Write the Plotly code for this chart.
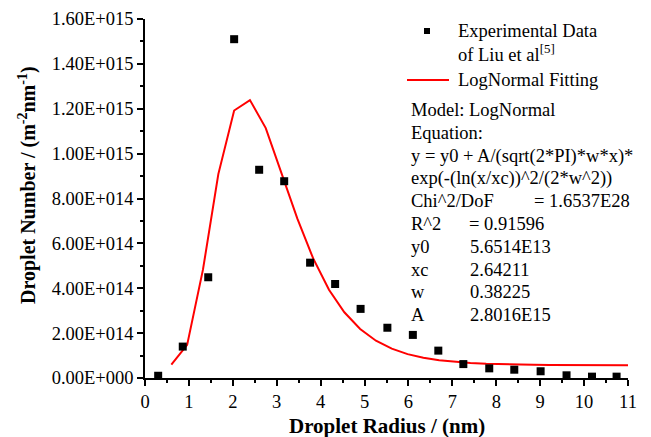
import plotly.graph_objects as go

exp_x = [0.30, 0.86, 1.44, 2.03, 2.60, 3.17, 3.76, 4.33, 4.91, 5.52, 6.10, 6.68, 7.25, 7.84, 8.41, 9.01, 9.60, 10.18, 10.74]
exp_y = [1.0e13, 1.40e14, 4.49e14, 1.51e15, 9.28e14, 8.77e14, 5.14e14, 4.19e14, 3.08e14, 2.24e14,
         1.92e14, 1.22e14, 6.2e13, 4.3e13, 3.7e13, 3.0e13, 1.2e13, 6e12, 6e12]

# LogNormal fitting curve (vertices)
fit_x = [0.60, 0.96, 1.32, 1.67, 2.03, 2.39, 2.75, 3.11, 3.47, 3.83, 4.19, 4.54, 4.90, 5.26, 5.62,
         5.98, 6.34, 6.70, 7.06, 7.41, 7.77, 8.13, 8.49, 8.85, 9.21, 9.57, 9.93, 10.28, 10.64, 11.0]
fit_y = [0.591e14, 1.478e14, 4.828e14, 9.086e14, 11.922e14, 12.385e14, 11.14e14, 9.150e14, 7.100e14,
         5.328e14, 3.936e14, 2.928e14, 2.182e14, 1.662e14, 1.306e14, 1.064e14, 0.900e14, 0.790e14,
         0.717e14, 0.669e14, 0.635e14, 0.613e14, 0.598e14, 0.587e14, 0.580e14, 0.576e14, 0.572e14,
         0.570e14, 0.568e14, 0.567e14]

x_ticks = [0, 1, 2, 3, 4, 5, 6, 7, 8, 9, 10, 11]
y_ticks = [0, 2e14, 4e14, 6e14, 8e14, 1.0e15, 1.2e15, 1.4e15, 1.6e15]
y_tick_text = ["0.00E+000", "2.00E+014", "4.00E+014", "6.00E+014", "8.00E+014",
               "1.00E+015", "1.20E+015", "1.40E+015", "1.60E+015"]

W, H = 651, 437
OFF = 8  # page body margin
L, R, T, B = 145, 628, 19, 378  # target plot area in window pixels
FONT = "Liberation Serif, Times New Roman, serif"


def px(xp):
    return (xp - L) / (R - L)


def py(yp):
    return (B - yp) / (B - T)


fig = go.Figure()
fig.add_trace(go.Scatter(x=fit_x, y=fit_y, mode="lines",
                         line=dict(color="#ff0000", width=2), showlegend=False))
fig.add_trace(go.Scatter(x=exp_x, y=exp_y, mode="markers",
                         marker=dict(symbol="square", size=8, color="black"), showlegend=False))

axis_common = dict(showgrid=False, zeroline=False, showline=True, linecolor="black", linewidth=1.5,
                   ticks="outside", ticklen=6, tickwidth=1.5, tickcolor="black", automargin=False,
                   tickfont=dict(family=FONT, size=18.5, color="black"))

fig.update_xaxes(range=[0, 11], tickvals=x_ticks, ticktext=[str(v) for v in x_ticks],
                 minor=dict(ticks="outside", ticklen=3, tickwidth=1.5, tickcolor="black", dtick=0.5),
                 **axis_common)
fig.update_yaxes(range=[0, 1.6e15], tickvals=y_ticks, ticktext=y_tick_text,
                 minor=dict(ticks="outside", ticklen=3, tickwidth=1.5, tickcolor="black", dtick=1e14),
                 **axis_common)

ann = []


def text(x, y, s, xanchor="left", size=18.5, angle=0):
    ann.append(dict(x=px(x), y=py(y), xref="paper", yref="paper", text=s, showarrow=False,
                    xanchor=xanchor, yanchor="middle", textangle=angle,
                    font=dict(family=FONT, size=size, color="black")))


# axis titles
text(386.5, 426, "<b>Droplet Radius / (nm)</b>", xanchor="center", size=21)
text(27, 185, "<b>Droplet Number / (m<sup>-2</sup>nm<sup>-1</sup>)</b>", xanchor="center", size=20, angle=-90)

# legend + fit report
text(456, 31, "Experimental Data")
text(456, 53, "of Liu et al<sup>[5]</sup>")
text(456, 80, "LogNormal Fitting")
text(409, 110, "Model: LogNormal")
text(409, 133, "Equation:")
text(409, 156, "y = y0 + A/(sqrt(2*PI)*w*x)*")
text(409, 178, "exp(-(ln(x/xc))^2/(2*w^2))")
text(409, 201, "Chi^2/DoF")
text(532, 201, "= 1.6537E28")
text(409, 224, "R^2")
text(467, 224, "= 0.91596")
text(409, 247, "y0")
text(468, 247, "5.6514E13")
text(409, 270, "xc")
text(468, 270, "2.64211")
text(409, 292, "w")
text(468, 292, "0.38225")
text(409, 315, "A")
text(468, 315, "2.8016E15")

shapes = [
    dict(type="rect", xref="paper", yref="paper", x0=px(424), x1=px(430), y0=py(34), y1=py(28),
         fillcolor="black", line=dict(width=0)),
    dict(type="line", xref="paper", yref="paper", x0=px(407), x1=px(449), y0=py(80), y1=py(80),
         line=dict(color="#ff0000", width=2)),
]

fig.update_layout(width=W, height=H,
                  margin=dict(l=L - OFF, r=W - (R - OFF), t=T - OFF, b=H - (B - OFF), autoexpand=False),
                  plot_bgcolor="white", paper_bgcolor="white",
                  annotations=ann, shapes=shapes, showlegend=False)

fig.write_html("out.html")
